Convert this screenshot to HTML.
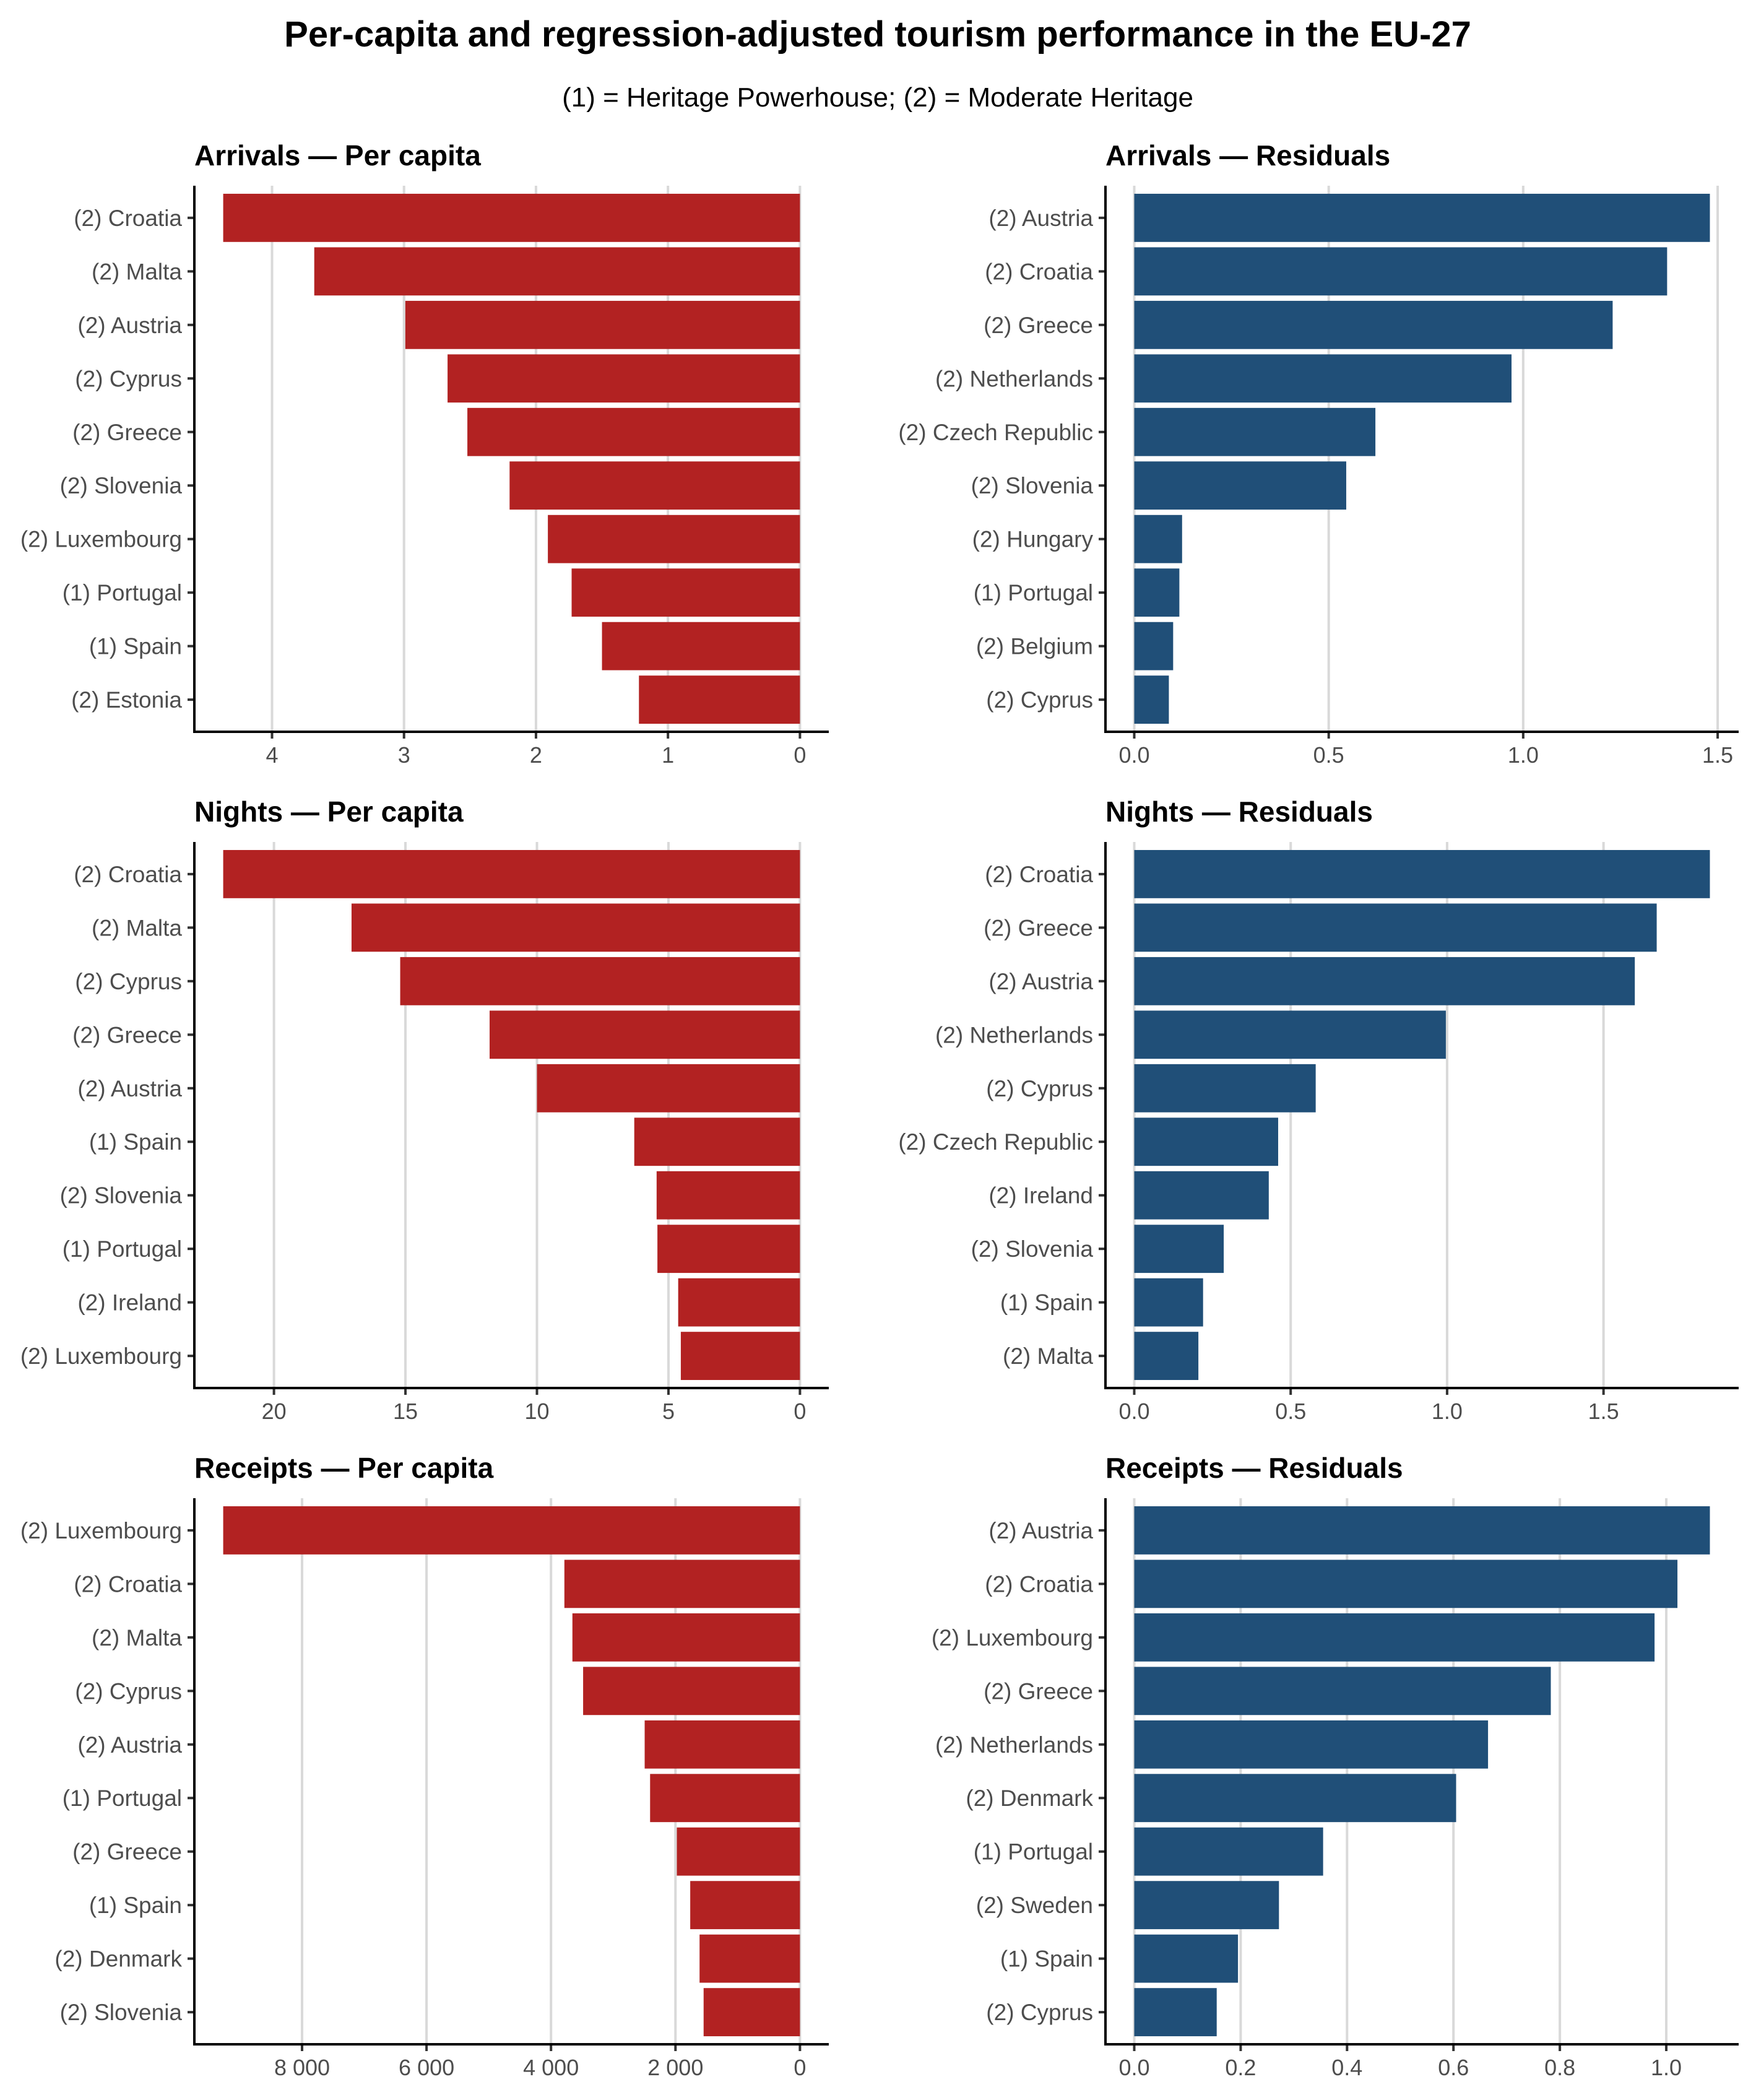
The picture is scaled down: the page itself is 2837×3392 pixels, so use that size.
<!DOCTYPE html>
<html><head><meta charset="utf-8"><style>
html,body{margin:0;padding:0;background:#fff}
svg text{font-family:"Liberation Sans",Arial,sans-serif}
</style></head><body>
<svg id="chart" width="2837" height="3387" viewBox="0 0 2837 3387" xmlns="http://www.w3.org/2000/svg">
<text x="1418" y="75" text-anchor="middle" font-size="58" font-weight="bold" fill="#000">Per-capita and regression-adjusted tourism performance in the EU-27</text>
<text x="1418" y="172" text-anchor="middle" font-size="44" fill="#000">(1) = Heritage Powerhouse; (2) = Moderate Heritage</text>
</svg>
<script>
const arrPcCats=["(2) Croatia","(2) Malta","(2) Austria","(2) Cyprus","(2) Greece","(2) Slovenia","(2) Luxembourg","(1) Portugal","(1) Spain","(2) Estonia"];
const arrPcVals=[4.37,3.68,2.99,2.67,2.52,2.20,1.91,1.73,1.50,1.22];
const arrPcTicks=[0,1,2,3,4];
const arrPcTickLabels=["0","1","2","3","4"];

const arrResCats=["(2) Austria","(2) Croatia","(2) Greece","(2) Netherlands","(2) Czech Republic","(2) Slovenia","(2) Hungary","(1) Portugal","(2) Belgium","(2) Cyprus"];
const arrResVals=[1.48,1.37,1.23,0.97,0.62,0.545,0.123,0.116,0.10,0.089];
const arrResTicks=[0,0.5,1.0,1.5];
const arrResTickLabels=["0.0","0.5","1.0","1.5"];

const nigPcCats=["(2) Croatia","(2) Malta","(2) Cyprus","(2) Greece","(2) Austria","(1) Spain","(2) Slovenia","(1) Portugal","(2) Ireland","(2) Luxembourg"];
const nigPcVals=[21.93,17.05,15.2,11.8,10.0,6.3,5.45,5.42,4.63,4.53];
const nigPcTicks=[0,5,10,15,20];
const nigPcTickLabels=["0","5","10","15","20"];

const nigResCats=["(2) Croatia","(2) Greece","(2) Austria","(2) Netherlands","(2) Cyprus","(2) Czech Republic","(2) Ireland","(2) Slovenia","(1) Spain","(2) Malta"];
const nigResVals=[1.84,1.67,1.60,0.996,0.58,0.46,0.43,0.286,0.22,0.205];
const nigResTicks=[0,0.5,1.0,1.5];
const nigResTickLabels=["0.0","0.5","1.0","1.5"];

const recPcCats=["(2) Luxembourg","(2) Croatia","(2) Malta","(2) Cyprus","(2) Austria","(1) Portugal","(2) Greece","(1) Spain","(2) Denmark","(2) Slovenia"];
const recPcVals=[9267,3785,3656,3484,2495,2408,1978,1763,1613,1548];
const recPcTicks=[0,2000,4000,6000,8000];
const recPcTickLabels=["0","2 000","4 000","6 000","8 000"];

const recResCats=["(2) Austria","(2) Croatia","(2) Luxembourg","(2) Greece","(2) Netherlands","(2) Denmark","(1) Portugal","(2) Sweden","(1) Spain","(2) Cyprus"];
const recResVals=[1.082,1.021,0.978,0.783,0.665,0.605,0.355,0.272,0.195,0.155];
const recResTicks=[0,0.2,0.4,0.6,0.8,1.0];
const recResTickLabels=["0.0","0.2","0.4","0.6","0.8","1.0"];

const NS="http://www.w3.org/2000/svg";
const svg=document.getElementById('chart');
function mk(tag,attrs,parent){const e=document.createElementNS(NS,tag);for(const k in attrs)e.setAttribute(k,attrs[k]);(parent||svg).appendChild(e);return e;}

function panel(key,title,cats,vals,ticks,tickLabels,col,row,reversed,color){
  const left=col===0?314:1786, right=col===0?1339:2809;
  const top=300+row*1060, bottom=top+882;
  const g=mk('g',{});
  
  
  const mx=Math.max(...vals);
  const d0=-0.05*mx, d1=1.05*mx;
  const xs=v=>reversed? right-(v-d0)/(d1-d0)*(right-left) : left+(v-d0)/(d1-d0)*(right-left);
  const unit=882/10.2;
  const yc=i=>top+(0.6+i)*unit;
  const t=mk('text',{x:left,y:top-33,'font-size':46,'font-weight':'bold',fill:'#000'},g);
  t.textContent=title;
  
  
  ticks.forEach((tv,i)=>{
    const x=xs(tv);
    const gl=mk('line',{x1:x,x2:x,y1:top,y2:bottom,stroke:'#d9d9d9','stroke-width':4},g);
    
    
    mk('line',{x1:x,x2:x,y1:bottom,y2:bottom+11,stroke:'#333','stroke-width':4},g);
    const tl=mk('text',{x:x,y:bottom+50,'text-anchor':'middle','font-size':36,fill:'#4d4d4d'},g);
    tl.textContent=tickLabels[i];
    
    
  });
  cats.forEach((c,i)=>{
    const x0=xs(0), x1=xs(vals[i]);
    const b=mk('rect',{x:Math.min(x0,x1),y:yc(i)-0.45*unit,width:Math.abs(x1-x0),height:0.9*unit,fill:color},g);
    
    
    mk('line',{x1:left-11,x2:left,y1:yc(i),y2:yc(i),stroke:'#333','stroke-width':4},g);
    const l=mk('text',{x:left-20,y:yc(i)+13,'text-anchor':'end','font-size':37,fill:'#4d4d4d'},g);
    l.textContent=c;
    
    
  });
  const ax=mk('line',{x1:left,x2:left,y1:top,y2:bottom+2,stroke:'#000','stroke-width':4},g);
  
  
  const ax2=mk('line',{x1:left-2,x2:right,y1:bottom,y2:bottom,stroke:'#000','stroke-width':4},g);
  
  
}
const RED="#b22222", BLUE="#204f78";
panel('arrivals-per-capita','Arrivals — Per capita',arrPcCats,arrPcVals,arrPcTicks,arrPcTickLabels,0,0,true,RED);
panel('arrivals-residuals','Arrivals — Residuals',arrResCats,arrResVals,arrResTicks,arrResTickLabels,1,0,false,BLUE);
panel('nights-per-capita','Nights — Per capita',nigPcCats,nigPcVals,nigPcTicks,nigPcTickLabels,0,1,true,RED);
panel('nights-residuals','Nights — Residuals',nigResCats,nigResVals,nigResTicks,nigResTickLabels,1,1,false,BLUE);
panel('receipts-per-capita','Receipts — Per capita',recPcCats,recPcVals,recPcTicks,recPcTickLabels,0,2,true,RED);
panel('receipts-residuals','Receipts — Residuals',recResCats,recResVals,recResTicks,recResTickLabels,1,2,false,BLUE);
</script>
</body></html>
